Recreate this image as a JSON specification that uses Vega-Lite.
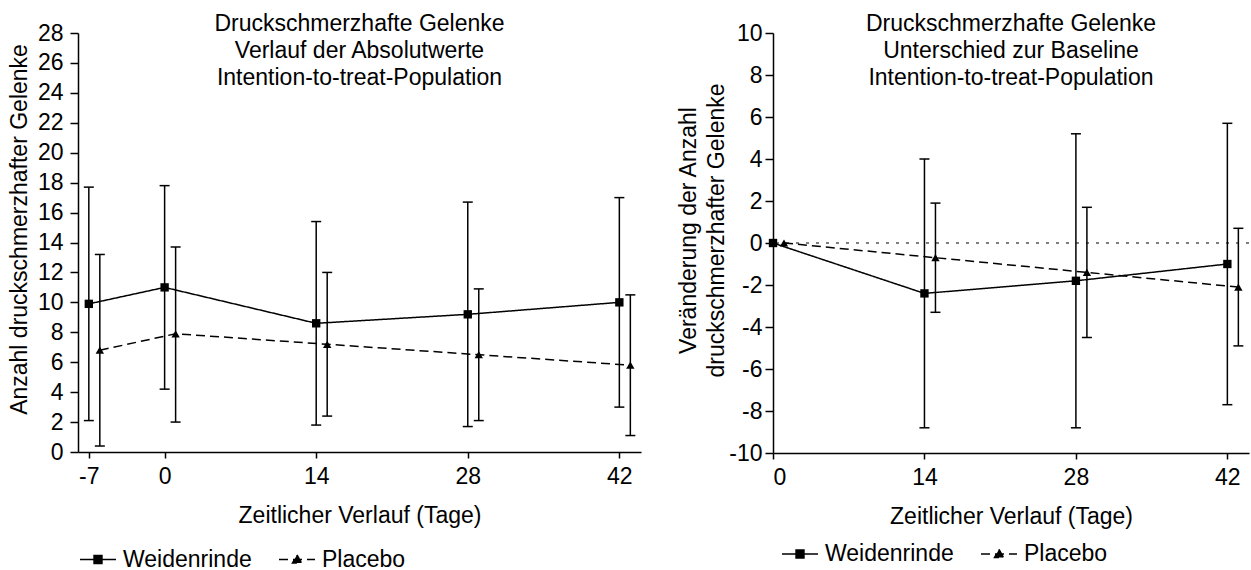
{
  "$schema": "https://vega.github.io/schema/vega-lite/v6.json",
  "background": "white",
  "padding": {"left": 8, "top": 12, "right": 0, "bottom": 0},
  "config": {
    "font": "Liberation Sans",
    "view": {"stroke": null},
    "axis": {"grid": false, "labelFont": "Liberation Sans", "labelFontSize": 23, "labelColor": "black", "labelOverlap": false, "labelBound": false, "labelExpr": "'' + datum.value", "titleFont": "Liberation Sans", "titleFontSize": 23, "titleFontWeight": "normal", "titleColor": "black", "domainColor": "black", "domainWidth": 1.5, "tickColor": "black", "tickWidth": 1.5},
    "title": {"font": "Liberation Sans", "fontSize": 23, "fontWeight": "normal", "color": "black", "lineHeight": 27, "anchor": "middle", "offset": 0},
    "legend": {"orient": "none", "direction": "horizontal", "title": null, "symbolSize": 1296, "symbolStrokeWidth": 1.5, "symbolStrokeColor": "black", "symbolFillColor": "black", "labelFont": "Liberation Sans", "labelFontSize": 23, "labelColor": "black", "labelOffset": 6, "columnPadding": 24, "padding": 0}
  },
  "datasets": {
    "absolut": [
      {"Tag": -7, "Gruppe": "Weidenrinde", "Mittel": 9.9, "Unten": 2.1, "Oben": 17.7},
      {"Tag": 0, "Gruppe": "Weidenrinde", "Mittel": 11.0, "Unten": 4.2, "Oben": 17.8},
      {"Tag": 14, "Gruppe": "Weidenrinde", "Mittel": 8.6, "Unten": 1.8, "Oben": 15.4},
      {"Tag": 28, "Gruppe": "Weidenrinde", "Mittel": 9.2, "Unten": 1.7, "Oben": 16.7},
      {"Tag": 42, "Gruppe": "Weidenrinde", "Mittel": 10.0, "Unten": 3.0, "Oben": 17.0},
      {"Tag": -7, "Gruppe": "Placebo", "Mittel": 6.8, "Unten": 0.4, "Oben": 13.2},
      {"Tag": 0, "Gruppe": "Placebo", "Mittel": 7.9, "Unten": 2.0, "Oben": 13.7},
      {"Tag": 14, "Gruppe": "Placebo", "Mittel": 7.2, "Unten": 2.4, "Oben": 12.0},
      {"Tag": 28, "Gruppe": "Placebo", "Mittel": 6.5, "Unten": 2.1, "Oben": 10.9},
      {"Tag": 42, "Gruppe": "Placebo", "Mittel": 5.8, "Unten": 1.1, "Oben": 10.5}
    ],
    "differenz": [
      {"Tag": 0, "Gruppe": "Weidenrinde", "Mittel": 0, "Unten": null, "Oben": null},
      {"Tag": 14, "Gruppe": "Weidenrinde", "Mittel": -2.4, "Unten": -8.8, "Oben": 4.0},
      {"Tag": 28, "Gruppe": "Weidenrinde", "Mittel": -1.8, "Unten": -8.8, "Oben": 5.2},
      {"Tag": 42, "Gruppe": "Weidenrinde", "Mittel": -1.0, "Unten": -7.7, "Oben": 5.7},
      {"Tag": 0, "Gruppe": "Placebo", "Mittel": 0, "Unten": null, "Oben": null},
      {"Tag": 14, "Gruppe": "Placebo", "Mittel": -0.7, "Unten": -3.3, "Oben": 1.9},
      {"Tag": 28, "Gruppe": "Placebo", "Mittel": -1.4, "Unten": -4.5, "Oben": 1.7},
      {"Tag": 42, "Gruppe": "Placebo", "Mittel": -2.1, "Unten": -4.9, "Oben": 0.7}
    ]
  },
  "spacing": 36,
  "resolve": {"scale": {"x": "independent", "y": "independent", "strokeDash": "independent"}, "legend": {"strokeDash": "independent"}},
  "hconcat": [
    {
      "width": 563,
      "height": 419,
      "title": {"text": ["Druckschmerzhafte Gelenke", "Verlauf der Absolutwerte", "Intention-to-treat-Population"], "dy": 71.5},
      "data": {"name": "absolut"},
      "layer": [
        {
          "transform": [{"filter": "datum.Gruppe === 'Weidenrinde'"}],
          "mark": {"type": "line", "color": "black", "strokeWidth": 1.5},
          "encoding": {
            "x": {"field": "Tag", "type": "quantitative", "scale": {"domain": [-8, 44], "nice": false, "zero": false}, "axis": {"values": [-7, 0, 14, 28, 42], "title": "Zeitlicher Verlauf (Tage)", "tickSize": 6, "labelPadding": 7, "titlePadding": 16, "labelOverlap": false}},
            "y": {"field": "Mittel", "type": "quantitative", "title": "Anzahl druckschmerzhafter Gelenke", "scale": {"domain": [0, 28], "nice": false}, "axis": {"values": [0, 2, 4, 6, 8, 10, 12, 14, 16, 18, 20, 22, 24, 26, 28], "tickCount": 15, "tickSize": 8, "labelPadding": 7, "titlePadding": 6, "titleY": 196, "labelOverlap": false}},
            "strokeDash": {"field": "Gruppe", "type": "nominal", "scale": {"domain": ["Weidenrinde", "Placebo"], "range": [[1, 0], [9, 5]]}, "legend": {"legendX": 1, "legendY": 507.5, "encode": {"symbols": {"update": {"shape": {"signal": "datum.value === 'Weidenrinde' ? 'M-1,0H1M-0.22,-0.22H0.22V0.22H-0.22Z' : 'M-1,0H1M0,-0.26L0.25,0.2H-0.25Z'"}, "fill": {"value": "black"}, "stroke": {"value": "black"}}}}}}
          }
        },
        {
          "transform": [{"filter": "datum.Gruppe === 'Placebo'"}],
          "mark": {"type": "line", "color": "black", "strokeWidth": 1.5, "xOffset": 11},
          "encoding": {
            "x": {"field": "Tag", "type": "quantitative", "scale": {"domain": [-8, 44], "nice": false, "zero": false}},
            "y": {"field": "Mittel", "type": "quantitative", "title": "Anzahl druckschmerzhafter Gelenke", "scale": {"domain": [0, 28], "nice": false}, "axis": {"values": [0, 2, 4, 6, 8, 10, 12, 14, 16, 18, 20, 22, 24, 26, 28], "tickCount": 15, "tickSize": 8, "labelPadding": 7, "titlePadding": 6, "titleY": 196, "labelOverlap": false}},
            "strokeDash": {"field": "Gruppe", "type": "nominal", "scale": {"domain": ["Weidenrinde", "Placebo"], "range": [[1, 0], [9, 5]]}}
          }
        },
        {
          "transform": [{"filter": "datum.Gruppe === 'Weidenrinde'"}],
          "mark": {"type": "rule", "color": "black", "strokeWidth": 1.5},
          "encoding": {
            "x": {"field": "Tag", "type": "quantitative", "scale": {"domain": [-8, 44], "nice": false, "zero": false}},
            "y": {"field": "Unten", "type": "quantitative", "title": "Anzahl druckschmerzhafter Gelenke", "scale": {"domain": [0, 28], "nice": false}, "axis": {"values": [0, 2, 4, 6, 8, 10, 12, 14, 16, 18, 20, 22, 24, 26, 28], "tickCount": 15, "tickSize": 8, "labelPadding": 7, "titlePadding": 6, "titleY": 196, "labelOverlap": false}},
            "y2": {"field": "Oben"}
          }
        },
        {
          "transform": [{"filter": "datum.Gruppe === 'Placebo'"}],
          "mark": {"type": "rule", "color": "black", "strokeWidth": 1.5, "xOffset": 11},
          "encoding": {
            "x": {"field": "Tag", "type": "quantitative", "scale": {"domain": [-8, 44], "nice": false, "zero": false}},
            "y": {"field": "Unten", "type": "quantitative", "title": "Anzahl druckschmerzhafter Gelenke", "scale": {"domain": [0, 28], "nice": false}, "axis": {"values": [0, 2, 4, 6, 8, 10, 12, 14, 16, 18, 20, 22, 24, 26, 28], "tickCount": 15, "tickSize": 8, "labelPadding": 7, "titlePadding": 6, "titleY": 196, "labelOverlap": false}},
            "y2": {"field": "Oben"}
          }
        },
        {
          "transform": [{"filter": "datum.Gruppe === 'Weidenrinde'"}, {"fold": ["Unten", "Oben"], "as": ["Grenze", "Wert"]}],
          "mark": {"type": "tick", "orient": "horizontal", "color": "black", "size": 10, "thickness": 1.5, "opacity": 1},
          "encoding": {
            "x": {"field": "Tag", "type": "quantitative", "scale": {"domain": [-8, 44], "nice": false, "zero": false}},
            "y": {"field": "Wert", "type": "quantitative", "title": "Anzahl druckschmerzhafter Gelenke", "scale": {"domain": [0, 28], "nice": false}, "axis": {"values": [0, 2, 4, 6, 8, 10, 12, 14, 16, 18, 20, 22, 24, 26, 28], "tickCount": 15, "tickSize": 8, "labelPadding": 7, "titlePadding": 6, "titleY": 196, "labelOverlap": false}}
          }
        },
        {
          "transform": [{"filter": "datum.Gruppe === 'Placebo'"}, {"fold": ["Unten", "Oben"], "as": ["Grenze", "Wert"]}],
          "mark": {"type": "tick", "orient": "horizontal", "color": "black", "size": 10, "thickness": 1.5, "opacity": 1, "xOffset": 11},
          "encoding": {
            "x": {"field": "Tag", "type": "quantitative", "scale": {"domain": [-8, 44], "nice": false, "zero": false}},
            "y": {"field": "Wert", "type": "quantitative", "title": "Anzahl druckschmerzhafter Gelenke", "scale": {"domain": [0, 28], "nice": false}, "axis": {"values": [0, 2, 4, 6, 8, 10, 12, 14, 16, 18, 20, 22, 24, 26, 28], "tickCount": 15, "tickSize": 8, "labelPadding": 7, "titlePadding": 6, "titleY": 196, "labelOverlap": false}}
          }
        },
        {
          "transform": [{"filter": "datum.Gruppe === 'Weidenrinde'"}],
          "mark": {"type": "point", "shape": "square", "filled": true, "color": "black", "size": 70, "opacity": 1},
          "encoding": {
            "x": {"field": "Tag", "type": "quantitative", "scale": {"domain": [-8, 44], "nice": false, "zero": false}},
            "y": {"field": "Mittel", "type": "quantitative", "title": "Anzahl druckschmerzhafter Gelenke", "scale": {"domain": [0, 28], "nice": false}, "axis": {"values": [0, 2, 4, 6, 8, 10, 12, 14, 16, 18, 20, 22, 24, 26, 28], "tickCount": 15, "tickSize": 8, "labelPadding": 7, "titlePadding": 6, "titleY": 196, "labelOverlap": false}}
          }
        },
        {
          "transform": [{"filter": "datum.Gruppe === 'Placebo'"}],
          "mark": {"type": "point", "shape": "triangle-up", "filled": true, "color": "black", "size": 70, "opacity": 1, "xOffset": 11},
          "encoding": {
            "x": {"field": "Tag", "type": "quantitative", "scale": {"domain": [-8, 44], "nice": false, "zero": false}},
            "y": {"field": "Mittel", "type": "quantitative", "title": "Anzahl druckschmerzhafter Gelenke", "scale": {"domain": [0, 28], "nice": false}, "axis": {"values": [0, 2, 4, 6, 8, 10, 12, 14, 16, 18, 20, 22, 24, 26, 28], "tickCount": 15, "tickSize": 8, "labelPadding": 7, "titlePadding": 6, "titleY": 196, "labelOverlap": false}}
          }
        }
      ]
    },
    {
      "width": 476,
      "height": 420,
      "title": {"text": ["Druckschmerzhafte Gelenke", "Unterschied zur Baseline", "Intention-to-treat-Population"], "dy": 71.5},
      "data": {"name": "differenz"},
      "layer": [
        {
          "data": {"values": [{"Null": 0}]},
          "mark": {"type": "rule", "color": "black", "strokeWidth": 1, "strokeDash": [3, 7]},
          "encoding": {
            "y": {"field": "Null", "type": "quantitative", "title": ["Veränderung der Anzahl", "druckschmerzhafter Gelenke"], "scale": {"domain": [-10, 10], "nice": false}}
          }
        },
        {
          "transform": [{"filter": "datum.Gruppe === 'Weidenrinde'"}],
          "mark": {"type": "line", "color": "black", "strokeWidth": 1.5},
          "encoding": {
            "x": {"field": "Tag", "type": "quantitative", "scale": {"domain": [0, 44], "nice": false, "zero": false}, "axis": {"values": [0, 14, 28, 42], "title": "Zeitlicher Verlauf (Tage)", "tickSize": 6, "labelPadding": 7, "titlePadding": 16, "labelOverlap": false}},
            "y": {"field": "Mittel", "type": "quantitative", "title": ["Veränderung der Anzahl", "druckschmerzhafter Gelenke"], "scale": {"domain": [-10, 10], "nice": false}, "axis": {"values": [-10, -8, -6, -4, -2, 0, 2, 4, 6, 8, 10], "tickSize": 8, "labelPadding": 3, "titlePadding": 0, "titleY": 197, "titleLineHeight": 28, "labelOverlap": false}},
            "strokeDash": {"field": "Gruppe", "type": "nominal", "scale": {"domain": ["Weidenrinde", "Placebo"], "range": [[1, 0], [9, 5]]}, "legend": {"legendX": 8, "legendY": 502, "encode": {"symbols": {"update": {"shape": {"signal": "datum.value === 'Weidenrinde' ? 'M-1,0H1M-0.22,-0.22H0.22V0.22H-0.22Z' : 'M-1,0H1M0,-0.26L0.25,0.2H-0.25Z'"}, "fill": {"value": "black"}, "stroke": {"value": "black"}}}}}}
          }
        },
        {
          "transform": [{"filter": "datum.Gruppe === 'Placebo'"}],
          "mark": {"type": "line", "color": "black", "strokeWidth": 1.5, "xOffset": 11},
          "encoding": {
            "x": {"field": "Tag", "type": "quantitative", "scale": {"domain": [0, 44], "nice": false, "zero": false}},
            "y": {"field": "Mittel", "type": "quantitative", "title": ["Veränderung der Anzahl", "druckschmerzhafter Gelenke"], "scale": {"domain": [-10, 10], "nice": false}},
            "strokeDash": {"field": "Gruppe", "type": "nominal", "scale": {"domain": ["Weidenrinde", "Placebo"], "range": [[1, 0], [9, 5]]}}
          }
        },
        {
          "transform": [{"filter": "datum.Gruppe === 'Weidenrinde'"}],
          "mark": {"type": "rule", "color": "black", "strokeWidth": 1.5},
          "encoding": {
            "x": {"field": "Tag", "type": "quantitative", "scale": {"domain": [0, 44], "nice": false, "zero": false}},
            "y": {"field": "Unten", "type": "quantitative", "title": ["Veränderung der Anzahl", "druckschmerzhafter Gelenke"], "scale": {"domain": [-10, 10], "nice": false}},
            "y2": {"field": "Oben"}
          }
        },
        {
          "transform": [{"filter": "datum.Gruppe === 'Placebo'"}],
          "mark": {"type": "rule", "color": "black", "strokeWidth": 1.5, "xOffset": 11},
          "encoding": {
            "x": {"field": "Tag", "type": "quantitative", "scale": {"domain": [0, 44], "nice": false, "zero": false}},
            "y": {"field": "Unten", "type": "quantitative", "title": ["Veränderung der Anzahl", "druckschmerzhafter Gelenke"], "scale": {"domain": [-10, 10], "nice": false}},
            "y2": {"field": "Oben"}
          }
        },
        {
          "transform": [{"filter": "datum.Gruppe === 'Weidenrinde'"}, {"fold": ["Unten", "Oben"], "as": ["Grenze", "Wert"]}],
          "mark": {"type": "tick", "orient": "horizontal", "color": "black", "size": 10, "thickness": 1.5, "opacity": 1},
          "encoding": {
            "x": {"field": "Tag", "type": "quantitative", "scale": {"domain": [0, 44], "nice": false, "zero": false}},
            "y": {"field": "Wert", "type": "quantitative", "title": ["Veränderung der Anzahl", "druckschmerzhafter Gelenke"], "scale": {"domain": [-10, 10], "nice": false}}
          }
        },
        {
          "transform": [{"filter": "datum.Gruppe === 'Placebo'"}, {"fold": ["Unten", "Oben"], "as": ["Grenze", "Wert"]}],
          "mark": {"type": "tick", "orient": "horizontal", "color": "black", "size": 10, "thickness": 1.5, "opacity": 1, "xOffset": 11},
          "encoding": {
            "x": {"field": "Tag", "type": "quantitative", "scale": {"domain": [0, 44], "nice": false, "zero": false}},
            "y": {"field": "Wert", "type": "quantitative", "title": ["Veränderung der Anzahl", "druckschmerzhafter Gelenke"], "scale": {"domain": [-10, 10], "nice": false}}
          }
        },
        {
          "transform": [{"filter": "datum.Gruppe === 'Weidenrinde'"}],
          "mark": {"type": "point", "shape": "square", "filled": true, "color": "black", "size": 70, "opacity": 1},
          "encoding": {
            "x": {"field": "Tag", "type": "quantitative", "scale": {"domain": [0, 44], "nice": false, "zero": false}},
            "y": {"field": "Mittel", "type": "quantitative", "title": ["Veränderung der Anzahl", "druckschmerzhafter Gelenke"], "scale": {"domain": [-10, 10], "nice": false}}
          }
        },
        {
          "transform": [{"filter": "datum.Gruppe === 'Placebo'"}],
          "mark": {"type": "point", "shape": "triangle-up", "filled": true, "color": "black", "size": 70, "opacity": 1, "xOffset": 11},
          "encoding": {
            "x": {"field": "Tag", "type": "quantitative", "scale": {"domain": [0, 44], "nice": false, "zero": false}},
            "y": {"field": "Mittel", "type": "quantitative", "title": ["Veränderung der Anzahl", "druckschmerzhafter Gelenke"], "scale": {"domain": [-10, 10], "nice": false}}
          }
        }
      ]
    }
  ]
}
